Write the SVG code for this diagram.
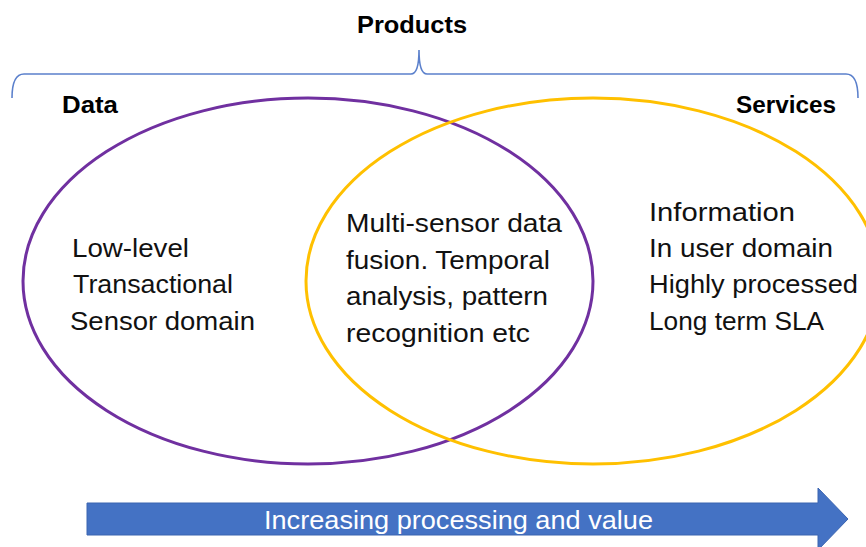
<svg xmlns="http://www.w3.org/2000/svg" width="866" height="547" viewBox="0 0 866 547">
  <style>
    .title { font-family: "Liberation Sans", Arial, sans-serif; font-weight: bold; font-size: 23px; fill: #000; }
    .body { font-family: "Liberation Sans", Arial, sans-serif; font-size: 26px; fill: #111; }
    .set { fill: none; stroke-width: 3; }
    .brace { fill: none; stroke: #5B80CC; stroke-width: 1.6; }
    .arrow-label { font-family: "Liberation Sans", Arial, sans-serif; font-size: 26px; fill: #fff; }
  </style>
  <rect width="866" height="547" fill="#fff"/>

  <!-- Brace spanning both sets -->
  <g id="products">
    <text class="title" x="357" y="33" textLength="110" lengthAdjust="spacingAndGlyphs">Products</text>
    <path class="brace" d="M12,98 Q12,74 24,74 H411 Q419,74 419,50 Q419,74 427,74 H846 Q858,74 858,98"/>
  </g>

  <!-- Data set -->
  <g id="data">
    <ellipse class="set" cx="308" cy="281" rx="285" ry="183" stroke="#7030A0"/>
    <text class="title" x="62" y="113" textLength="56" lengthAdjust="spacingAndGlyphs">Data</text>
    <text class="body" x="72" y="257" textLength="117" lengthAdjust="spacingAndGlyphs">Low-level</text>
    <text class="body" x="73" y="293" textLength="160" lengthAdjust="spacingAndGlyphs">Transactional</text>
    <text class="body" x="70" y="330" textLength="185" lengthAdjust="spacingAndGlyphs">Sensor domain</text>
  </g>

  <!-- Services set -->
  <g id="services">
    <ellipse class="set" cx="593" cy="281" rx="287" ry="183" stroke="#FFC000"/>
    <text class="title" x="736" y="113" textLength="100" lengthAdjust="spacingAndGlyphs">Services</text>
    <text class="body" x="649" y="221" textLength="146" lengthAdjust="spacingAndGlyphs">Information</text>
    <text class="body" x="649" y="257" textLength="184" lengthAdjust="spacingAndGlyphs">In user domain</text>
    <text class="body" x="649" y="293" textLength="209" lengthAdjust="spacingAndGlyphs">Highly processed</text>
    <text class="body" x="649" y="330" textLength="175" lengthAdjust="spacingAndGlyphs">Long term SLA</text>
  </g>

  <!-- Overlap of the two sets -->
  <g id="overlap">
    <text class="body" x="346" y="232" textLength="216" lengthAdjust="spacingAndGlyphs">Multi-sensor data</text>
    <text class="body" x="346" y="269" textLength="204" lengthAdjust="spacingAndGlyphs">fusion. Temporal</text>
    <text class="body" x="346" y="305" textLength="202" lengthAdjust="spacingAndGlyphs">analysis, pattern</text>
    <text class="body" x="346" y="342" textLength="184" lengthAdjust="spacingAndGlyphs">recognition etc</text>
  </g>

  <!-- Block arrow along the bottom -->
  <g id="connectors">
    <g id="value-arrow">
      <polygon points="87,503 818,503 818,488 848,519 818,550 818,535 87,535" fill="#4472C4" stroke="#3A64B0" stroke-width="1"/>
      <text class="arrow-label" x="264" y="529" textLength="389" lengthAdjust="spacingAndGlyphs">Increasing processing and value</text>
    </g>
  </g>
</svg>
